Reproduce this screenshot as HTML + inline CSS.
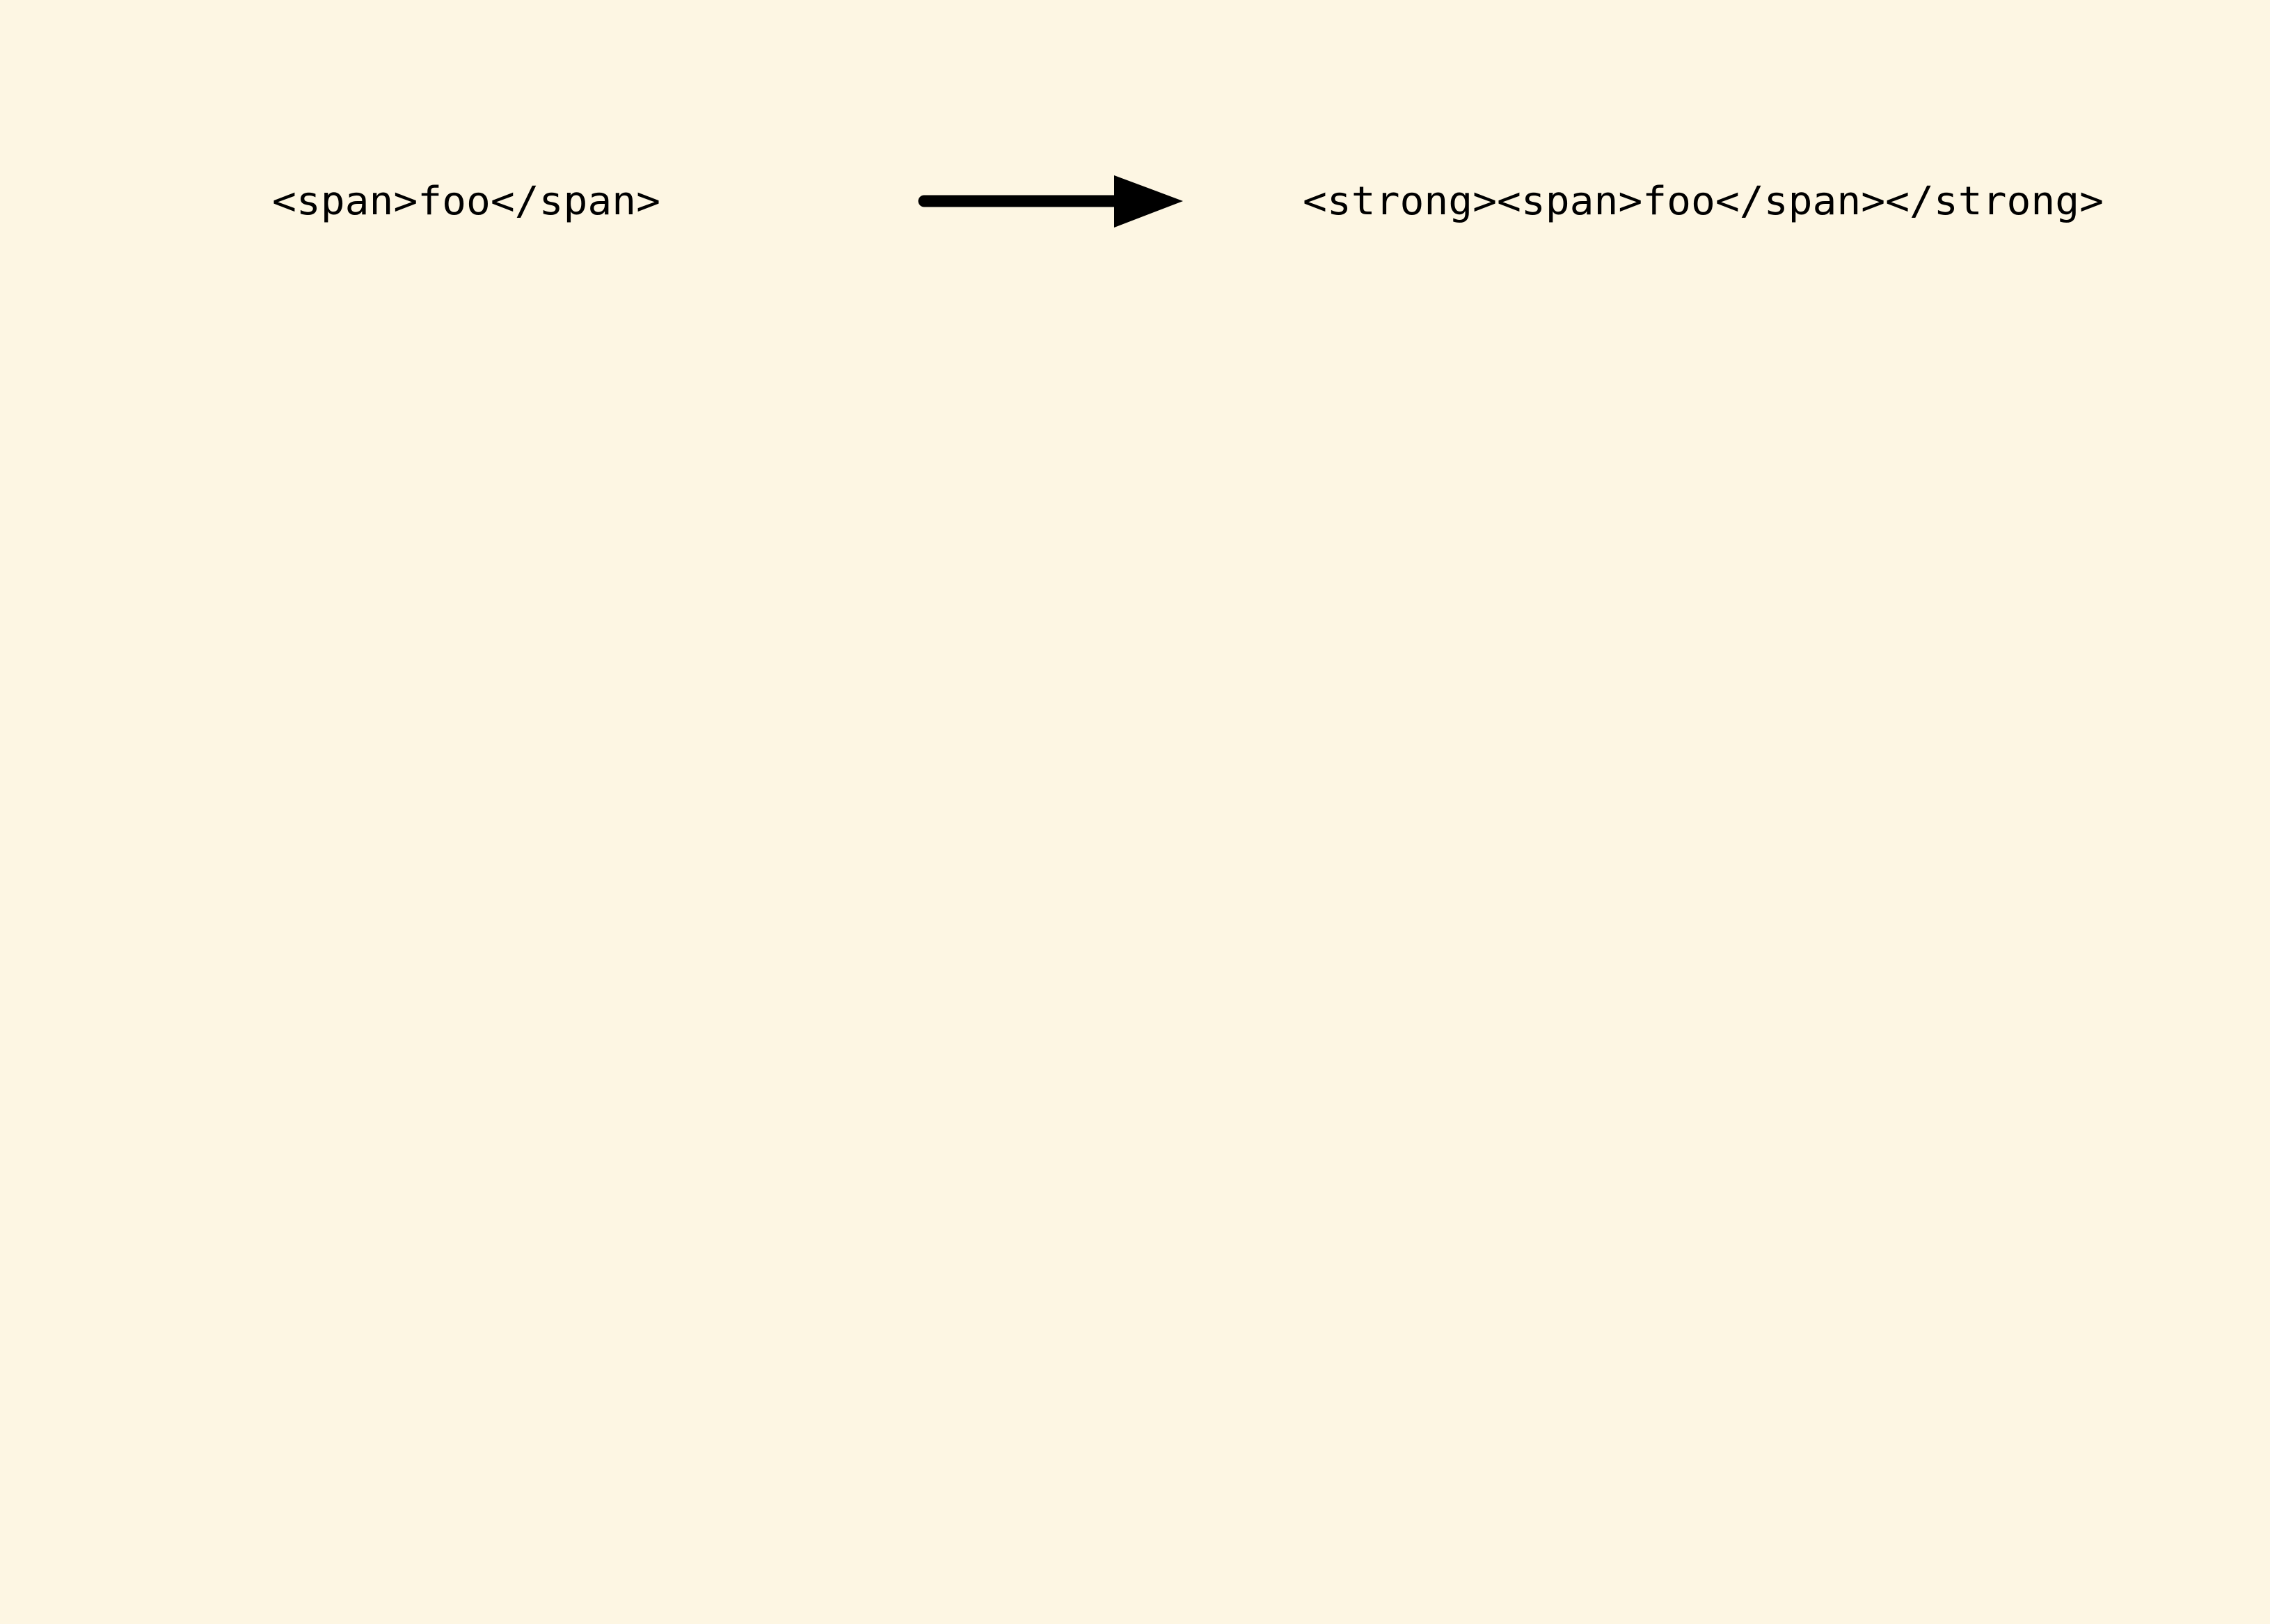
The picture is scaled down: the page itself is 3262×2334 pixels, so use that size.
<!DOCTYPE html>
<html><head><meta charset="utf-8"><style>html,body{margin:0;padding:0;background:#fdf6e3;}</style></head>
<body>
<svg width="3262" height="2329" viewBox="0 0 3262 2329" xmlns="http://www.w3.org/2000/svg">
<rect width="3262" height="2329" fill="#fdf6e3"/>
<text x="391" y="308" font-family="DejaVu Sans Mono, Liberation Mono, monospace" font-size="56" textLength="558" lengthAdjust="spacingAndGlyphs" fill="#000">&lt;span&gt;foo&lt;/span&gt;</text>
<line x1="1328" y1="289" x2="1610" y2="289" stroke="#000" stroke-width="17" stroke-linecap="round"/>
<polygon points="1601,252 1700,289 1601,327" fill="#000"/>
<text x="1872" y="308" font-family="DejaVu Sans Mono, Liberation Mono, monospace" font-size="56" textLength="1151" lengthAdjust="spacingAndGlyphs" fill="#000">&lt;strong&gt;&lt;span&gt;foo&lt;/span&gt;&lt;/strong&gt;</text>
</svg>
</body></html>
